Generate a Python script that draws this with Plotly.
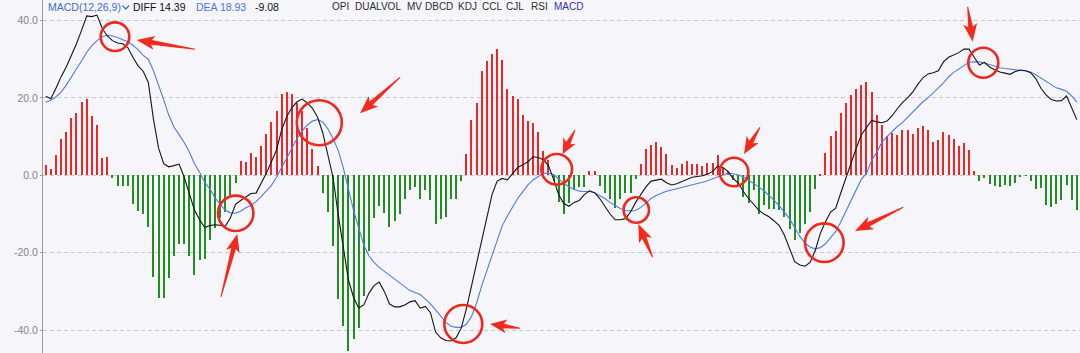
import math
import plotly.graph_objects as go

# ---------------- data ----------------
hist = [2.7, 1.6, 5.2, 9.4, 11.2, 14.9, 16.0, 19.0, 19.7, 15.2, 13.1, 4.6, 4.7, -0.8, -2.8, -2.8, -2.8, -7.4, -9.3, -9.9,
        -13.4, -26.3, -31.6, -31.6, -26.5, -20.8, -17.7, -17.7, -20.8, -25.7, -21.9, -21.6, -16.8, -13.5, -11.0, -9.5, -5.0, -1.9, 3.8, 3.4,
        5.7, 4.8, 7.6, 10.7, 13.8, 16.5, 21.0, 21.6, 20.9, 18.7, 16.5, 12.2, 6.8, 2.5, -4.5, -9.4, -18.2, -32.0, -38.9, -45.4,
        -42.3, -39.5, -31.2, -19.5, -11.0, -8.0, -9.7, -13.3, -11.8, -9.9, -6.2, -3.8, -2.9, -6.1, -3.8, -6.4, -12.5, -11.2, -10.9, -6.0,
        -6.1, -1.6, 5.5, 14.3, 18.7, 27.0, 29.5, 31.3, 32.7, 29.7, 22.4, 20.4, 19.8, 15.5, 14.0, 13.5, 11.3, 6.2, 4.0, -1.5,
        -6.8, -9.9, -7.2, -3.8, -3.1, -2.9, 1.1, 1.1, -2.8, -4.5, -6.2, -8.5, -6.1, -4.6, -4.6, -1.0, 2.9, 6.8, 7.8, 8.5,
        7.4, 5.4, 2.6, 1.9, 2.9, 3.6, 2.8, 2.9, 2.3, 3.2, 3.1, 5.2, 2.0, 1.0, -1.2, -2.5, -5.6, -7.1, -3.8, -9.9,
        -7.6, -8.7, -8.6, -9.0, -10.8, -13.9, -16.8, -14.9, -12.7, -9.4, -3.6, 0.3, 5.7, 10.2, 11.5, 16.0, 18.7, 20.7, 22.4, 23.4,
        24.0, 21.6, 15.5, 13.1, 10.2, 10.9, 10.5, 11.6, 11.6, 10.6, 12.1, 12.7, 11.8, 8.7, 9.2, 11.3, 10.5, 9.5, 7.6, 8.3,
        6.6, 1.1, -1.4, -0.8, -2.3, -2.8, -2.9, -2.6, -2.8, -2.1, -0.2, -0.1, -1.4, -3.6, -3.4, -7.7, -8.3, -7.5, -6.4, -2.4,
        -6.3, -9.08]

diff = [20.4, 19.8, 22.5, 25.5, 28.0, 31.0, 34.0, 37.5, 41.2, 41.0, 41.4, 38.0, 36.0, 34.8, 34.2, 34.0, 33.0, 30.5, 28.3, 26.9,
        24.0, 14.5, 7.0, 3.0, 2.2, 2.5, 2.9, -0.5, -4.5, -9.0, -11.5, -13.5, -13.0, -12.8, -12.9, -13.2, -11.0, -7.5, -6.5, -5.5,
        -4.7, -4.6, -2.1, 0.5, 3.5, 6.6, 11.8, 15.2, 17.5, 19.0, 19.7, 18.7, 17.3, 15.0, 11.0, 5.0, -0.5, -10.0, -19.0, -27.0,
        -31.5, -34.3, -33.5, -30.5, -28.5, -27.6, -30.0, -33.2, -34.0, -34.0, -33.5, -32.7, -32.4, -34.3, -33.9, -35.5, -40.5, -42.0, -42.7, -42.8,
        -42.0, -39.5, -34.5, -28.5, -22.5, -16.5, -11.0, -5.0, -1.5, -0.8, -1.2, 0.5, 2.0, 2.7, 3.5, 4.8, 4.6, 4.0, 2.5, -1.0,
        -5.0, -7.3, -8.0, -7.0, -6.5, -5.0, -4.0, -4.5, -6.0, -8.0, -10.0, -11.5, -11.5, -11.2, -9.5, -7.0, -5.0, -3.0, -1.5, -1.2,
        -1.0, -1.9, -2.5, -2.2, -1.6, -1.0, -0.5, -0.3, -0.1, 0.3, 1.0, 2.4, 2.0, 1.0, -0.8, -2.0, -4.2, -6.0, -7.5, -9.0,
        -10.0, -10.7, -11.8, -13.0, -15.5, -19.0, -22.3, -23.2, -23.5, -22.5, -19.5, -15.0, -12.0, -9.5, -8.5, -4.5, -0.5, 3.5, 7.0, 10.5,
        12.5, 14.2, 13.8, 13.6, 14.0, 15.4, 17.2, 18.8, 20.0, 21.5, 23.5, 25.2, 26.2, 26.5, 27.0, 29.3, 30.5, 31.0, 31.7, 32.6,
        32.6, 30.5, 28.5, 29.2, 28.0, 27.3, 26.7, 26.4, 26.1, 26.8, 27.2, 27.0, 26.5, 25.0, 22.5, 20.8, 19.6, 19.2, 19.3, 20.5,
        17.2, 14.39]

dea = [18.9, 19.4, 20.3, 21.5, 23.3, 25.3, 27.5, 29.6, 31.8, 33.5, 34.8, 35.8, 36.2, 36.0, 35.6, 35.0, 34.5, 33.6, 32.5, 31.0,
       30.0, 27.0, 23.5, 19.5, 15.5, 12.5, 10.5, 8.5, 6.0, 3.0, 0.8, -1.8, -3.5, -5.8, -7.5, -9.0, -9.7, -9.8, -9.3, -8.4,
       -7.8, -6.8, -5.5, -4.0, -2.6, -0.5, 2.0, 4.5, 7.0, 9.5, 11.5, 13.0, 14.0, 14.4, 13.8, 12.0, 9.5, 6.5, 2.0, -3.5,
       -9.0, -13.5, -18.0, -20.8, -22.5, -23.8, -24.8, -25.8, -26.8, -27.8, -28.8, -29.8, -30.3, -30.8, -32.0, -33.2, -34.8, -36.5, -38.0, -39.0,
       -39.3, -39.3, -38.5, -36.5, -33.0, -28.5, -24.5, -20.5, -16.5, -13.0, -10.5, -8.3, -6.0, -4.2, -2.5, -1.2, -0.3, 0.5, 0.6, 0.2,
       -1.0, -2.0, -3.0, -3.6, -4.1, -4.2, -4.2, -4.5, -5.2, -6.0, -7.0, -7.9, -8.6, -9.1, -9.2, -9.1, -8.3, -7.2, -6.0, -5.2,
       -4.6, -4.1, -3.8, -3.5, -3.2, -2.9, -2.5, -2.2, -1.8, -1.4, -0.9, -0.4, 0.3, 0.6, 0.4, 0.1, -0.4, -1.2, -2.0, -3.0,
       -4.0, -5.2, -6.5, -7.9, -9.5, -11.2, -13.5, -15.8, -17.5, -18.5, -19.0, -18.7, -17.7, -16.2, -14.5, -12.0, -9.3, -6.4, -3.8, -1.0,
       0.5, 3.8, 6.0, 8.5, 10.0, 11.3, 12.6, 13.6, 15.0, 16.3, 17.6, 19.0, 20.0, 21.2, 22.6, 23.9, 25.4, 26.6, 27.5, 28.5,
       29.2, 29.3, 29.3, 29.0, 28.6, 28.2, 27.8, 27.6, 27.4, 27.2, 27.1, 27.0, 26.7, 26.0, 25.2, 24.3, 23.4, 22.6, 22.2, 21.7,
       20.5, 18.93]

y_ticks = [-40, -20, 0, 20, 40]
y_tick_labels = ["-40.0", "-20.0", "0.0", "20.0", "40.0"]

header_left = [("MACD(12,26,9)", "#3d6fd9"), ("DIFF 14.39", "#111111"), ("DEA 18.93", "#4a7ae0"), ("-9.08", "#111111")]
header_right = ["OPI", "DUALVOL", "MV", "DBCD", "KDJ", "CCL", "CJL", "RSI", "MACD"]

# ---------------- layout geometry (pixels) ----------------
W, H = 1080, 353
ML = 43
PW = W - ML
X_RANGE = [-0.53, 201.62]
Y_RANGE = [-45.92, 45.30]

def px2paper(px, py):
    return (px - ML) / PW, 1 - py / H

idx = list(range(len(hist)))
pos_x = [i for i, v in zip(idx, hist) if v >= 0]
pos_y = [v for v in hist if v >= 0]
neg_x = [i for i, v in zip(idx, hist) if v < 0]
neg_y = [v for v in hist if v < 0]

fig = go.Figure()
fig.add_trace(go.Bar(x=pos_x, y=pos_y, width=0.2, marker=dict(color="#ee2626", line=dict(width=0)),
                     hoverinfo="skip"))
fig.add_trace(go.Bar(x=neg_x, y=neg_y, width=0.2, marker=dict(color="#228e22", line=dict(width=0)),
                     hoverinfo="skip"))
fig.add_trace(go.Scatter(x=idx, y=dea, mode="lines", line=dict(color="#4b7fe8", width=1.1), hoverinfo="skip"))
fig.add_trace(go.Scatter(x=idx, y=diff, mode="lines", line=dict(color="#161616", width=1.1), hoverinfo="skip"))

# ---------------- annotation overlay: red circles & arrows (pixel positions) ----------------
circles = [(115, 36.7, 14.3), (235.7, 213.3, 17.7), (319.3, 122.7, 22.5), (463.3, 324, 19),
           (556.7, 169.3, 15.3), (636.3, 210, 12.7), (734, 172, 14.3), (824.3, 242.7, 19.3), (983.3, 62.7, 15)]
arrows = [((195, 49.3), (136.7, 40)), ((221, 297), (237.3, 234)), ((400, 77.3), (360, 113.3)),
          ((520, 328.3), (490, 324)), ((575, 130), (562.7, 154)), ((652.7, 257.3), (638.3, 224)),
          ((760, 127.3), (744, 154)), ((903.3, 207.3), (855, 231)), ((967.7, 6.7), (972.7, 41.7))]

shapes = []
RED = "#f0281e"
for cx, cy, r in circles:
    x0, y1 = px2paper(cx - r, cy - r)
    x1, y0 = px2paper(cx + r, cy + r)
    shapes.append(dict(type="circle", xref="paper", yref="paper", x0=x0, x1=x1, y0=y0, y1=y1,
                       line=dict(color=RED, width=2.6), fillcolor="rgba(0,0,0,0)"))

for (tx, ty), (hx, hy) in arrows:
    L = math.hypot(hx - tx, hy - ty)
    ux, uy = (hx - tx) / L, (hy - ty) / L
    nx, ny = -uy, ux
    hl = min(15.0, 0.45 * L)
    hw = min(7.0, 0.5 * hl + 1.5)
    nw = 2.4
    sw = 3.0
    bx, by = hx - ux * hl, hy - uy * hl
    pts = [
        (tx + nx * 0.5, ty + ny * 0.5),
        (bx + nx * nw, by + ny * nw),
        (bx - ux * sw + nx * hw, by - uy * sw + ny * hw),
        (hx, hy),
        (bx - ux * sw - nx * hw, by - uy * sw - ny * hw),
        (bx - nx * nw, by - ny * nw),
        (tx - nx * 0.5, ty - ny * 0.5),
    ]
    pp = [px2paper(px, py) for px, py in pts]
    path = "M " + " L ".join(f"{a:.5f},{b:.5f}" for a, b in pp) + " Z"
    shapes.append(dict(type="path", xref="paper", yref="paper", path=path,
                       fillcolor="#f52a1e", line=dict(width=0)))

# chevron after MACD(12,26,9)
cpts = [px2paper(122.5, 5.5), px2paper(125.8, 9.0), px2paper(129.1, 5.5)]
shapes.append(dict(type="path", xref="paper", yref="paper",
                   path="M " + " L ".join(f"{a:.5f},{b:.5f}" for a, b in cpts),
                   line=dict(color="#3d6fd9", width=1.2)))

# ---------------- header texts ----------------
annotations = []
left_pos = [47.0, 131.5, 195.0, 254.0]
right_pos = [330.5, 353.5, 405.5, 423.5, 456.5, 480.5, 504.5, 530.0, 552.5]
ty_paper = 1 - 6.5 / H
for (txt, col), px in zip(header_left, left_pos):
    annotations.append(dict(text=txt, x=(px - ML) / PW, y=ty_paper, xref="paper", yref="paper",
                            xanchor="left", yanchor="middle", showarrow=False, borderpad=0,
                            font=dict(family="Liberation Sans", size=10.5, color=col)))
for txt, px in zip(header_right, right_pos):
    col = "#3434b4" if txt == "MACD" else "#2e2e2e"
    annotations.append(dict(text=txt, x=(px - ML) / PW, y=ty_paper, xref="paper", yref="paper",
                            xanchor="left", yanchor="middle", showarrow=False, borderpad=0,
                            font=dict(family="Liberation Sans", size=10, color=col)))

fig.update_layout(
    width=W, height=H,
    margin=dict(l=ML, r=0, t=0, b=0, pad=0),
    paper_bgcolor="#f5f5fa", plot_bgcolor="#f5f5fa",
    showlegend=False, barmode="overlay", bargap=0,
    shapes=shapes, annotations=annotations,
    xaxis=dict(range=X_RANGE, visible=False, showgrid=False, zeroline=False, fixedrange=True),
    yaxis=dict(range=Y_RANGE, tickvals=y_ticks, ticktext=y_tick_labels, showgrid=True,
               gridcolor="#c9c9cc", griddash="4px,3px", gridwidth=1, zeroline=False,
               showline=True, linecolor="#9c9ca0", linewidth=1, ticks="outside", ticklen=2,
               tickcolor="#9c9ca0", automargin=False,
               tickfont=dict(family="Liberation Sans", size=10.5, color="#858585")),
    hovermode=False,
)

fig.write_html("out.html")
